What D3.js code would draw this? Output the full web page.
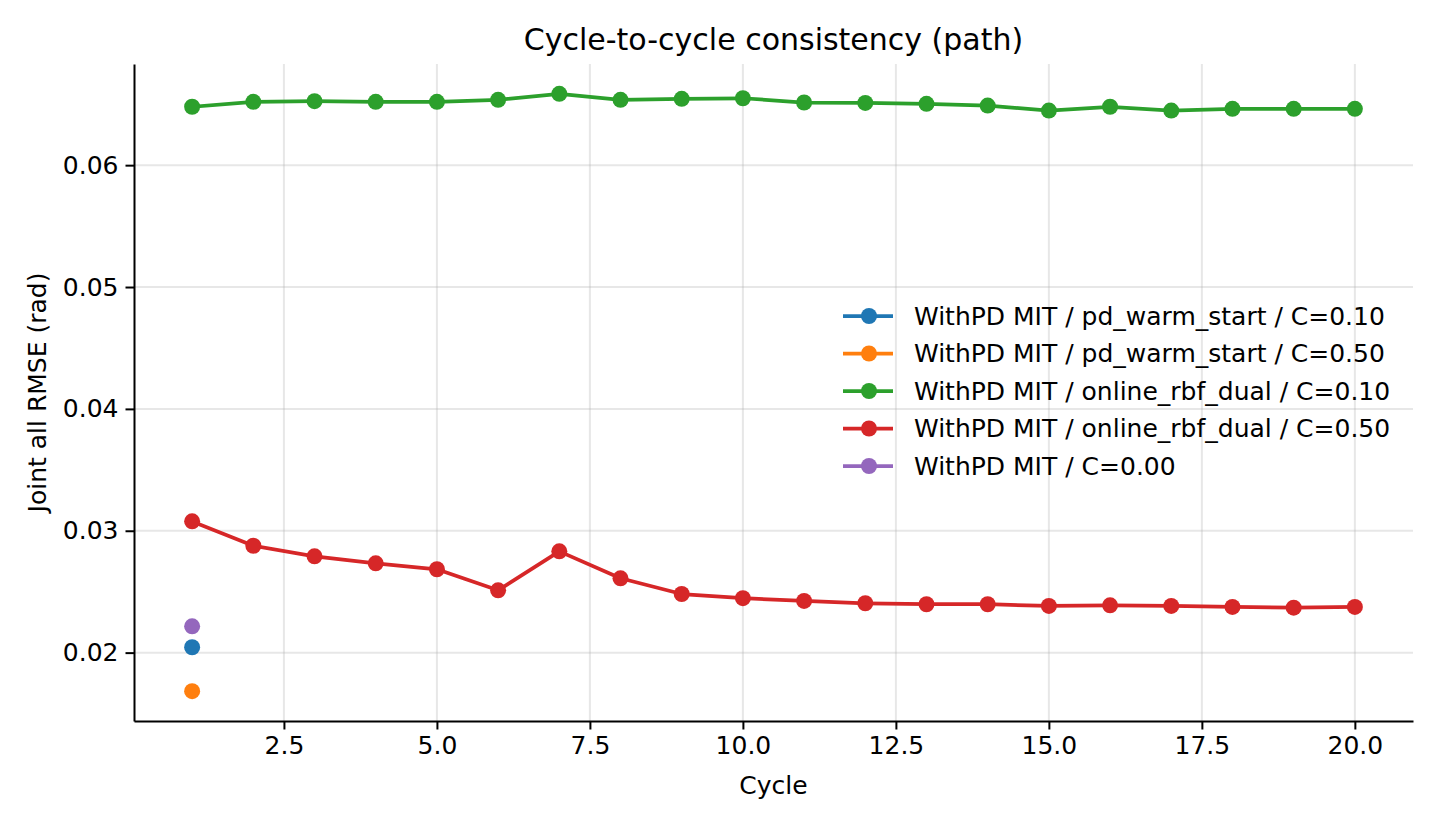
<!DOCTYPE html>
<html>
<head>
    <meta charset="utf-8" />
    <title>Cycle-to-cycle consistency</title>
    <script src="https://cdn.jsdelivr.net/npm/d3@7"></script>
    <style>
        body { margin: 0; background: #fff; }
        text { font-family: "DejaVu Sans", sans-serif; fill: #000; }
    </style>
</head>
<body>
<div id="chart"></div>
<script>
    // data
    var cycles = [1, 2, 3, 4, 5, 6, 7, 8, 9, 10, 11, 12, 13, 14, 15, 16, 17, 18, 19, 20];
    var warmC010 = [0.02044];
    var warmC050 = [0.01684];
    var rbfC010 = [0.06479, 0.06520, 0.06525, 0.06520, 0.06520, 0.06536, 0.06585, 0.06536, 0.06544, 0.06549,
                   0.06514, 0.06511, 0.06503, 0.06489, 0.06448, 0.06479, 0.06448, 0.06462, 0.06462, 0.06462];
    var rbfC050 = [0.03077, 0.02877, 0.02790, 0.02733, 0.02684, 0.02511, 0.02831, 0.02610, 0.02481, 0.02447,
                   0.02424, 0.02405, 0.02397, 0.02397, 0.02383, 0.02388, 0.02383, 0.02375, 0.02369, 0.02375];
    var noC = [0.02216];
    var seriesNames = [
        "WithPD MIT / pd_warm_start / C=0.10",
        "WithPD MIT / pd_warm_start / C=0.50",
        "WithPD MIT / online_rbf_dual / C=0.10",
        "WithPD MIT / online_rbf_dual / C=0.50",
        "WithPD MIT / C=0.00"
    ];
    var seriesColors = ["#1f77b4", "#ff7f0e", "#2ca02c", "#d62728", "#9467bd"];
    var xTicks = [2.5, 5.0, 7.5, 10.0, 12.5, 15.0, 17.5, 20.0];
    var yTicks = [0.02, 0.03, 0.04, 0.05, 0.06];

    var series = [warmC010, warmC050, rbfC010, rbfC050, noC].map(function (vals, i) {
        return {
            name: seriesNames[i],
            color: seriesColors[i],
            points: vals.map(function (v, j) { return { x: cycles[j], y: v }; })
        };
    });

    var width = 1440, height = 827;
    var margin = { top: 64, right: 27, bottom: 106, left: 134 };

    var svg = d3.select("#chart").append("svg")
        .attr("width", width)
        .attr("height", height);

    // matplotlib style 5% padding
    var allY = d3.merge(series.map(function (s) { return s.points.map(function (p) { return p.y; }); }));
    var xExt = d3.extent(cycles), yExt = d3.extent(allY);
    var xPad = (xExt[1] - xExt[0]) * 0.05, yPad = (yExt[1] - yExt[0]) * 0.05;

    var x = d3.scaleLinear()
        .domain([xExt[0] - xPad, xExt[1] + xPad])
        .range([margin.left, width - margin.right]);
    var y = d3.scaleLinear()
        .domain([yExt[0] - yPad, yExt[1] + yPad])
        .range([height - margin.bottom, margin.top]);

    // grid
    var grid = svg.append("g").attr("stroke", "#b0b0b0").attr("stroke-opacity", 0.3).attr("stroke-width", 2);
    grid.selectAll(".gx").data(xTicks).enter().append("line")
        .attr("x1", function (d) { return x(d); }).attr("x2", function (d) { return x(d); })
        .attr("y1", margin.top).attr("y2", height - margin.bottom);
    grid.selectAll(".gy").data(yTicks).enter().append("line")
        .attr("y1", function (d) { return y(d); }).attr("y2", function (d) { return y(d); })
        .attr("x1", margin.left).attr("x2", width - margin.right);

    // lines and markers
    var line = d3.line().x(function (d) { return x(d.x); }).y(function (d) { return y(d.y); });
    series.forEach(function (s) {
        var g = svg.append("g");
        g.append("path")
            .attr("d", line(s.points))
            .attr("fill", "none")
            .attr("stroke", s.color)
            .attr("stroke-width", 3.75)
            .attr("stroke-linejoin", "round")
            .attr("stroke-linecap", "square");
        g.selectAll("circle").data(s.points).enter().append("circle")
            .attr("cx", function (d) { return x(d.x); })
            .attr("cy", function (d) { return y(d.y); })
            .attr("r", 8)
            .attr("fill", s.color);
    });

    // axes
    var xAxis = svg.append("g")
        .attr("transform", "translate(0," + (height - margin.bottom) + ")")
        .call(d3.axisBottom(x).tickValues(xTicks).tickFormat(d3.format(".1f")).tickSizeInner(8.5).tickSizeOuter(0).tickPadding(7));
    var yAxis = svg.append("g")
        .attr("transform", "translate(" + margin.left + ",0)")
        .call(d3.axisLeft(y).tickValues(yTicks).tickFormat(d3.format(".2f")).tickSizeInner(8.5).tickSizeOuter(0).tickPadding(7));
    [xAxis, yAxis].forEach(function (a) {
        a.select(".domain").attr("stroke", "#000").attr("stroke-width", 2);
        a.selectAll(".tick line").attr("stroke", "#000").attr("stroke-width", 2);
        a.selectAll(".tick text").style("font-size", "25px");
        a.attr("font-family", null);
    });

    // titles
    svg.append("text")
        .attr("x", (margin.left + width - margin.right) / 2)
        .attr("y", 50)
        .attr("text-anchor", "middle")
        .style("font-size", "30px")
        .text("Cycle-to-cycle consistency (path)");
    svg.append("text")
        .attr("x", (margin.left + width - margin.right) / 2)
        .attr("y", 794)
        .attr("text-anchor", "middle")
        .style("font-size", "25px")
        .text("Cycle");
    svg.append("text")
        .attr("transform", "translate(46," + ((margin.top + height - margin.bottom) / 2) + ") rotate(-90)")
        .attr("text-anchor", "middle")
        .style("font-size", "25px")
        .text("Joint all RMSE (rad)");

    // legend
    var legend = svg.selectAll(".legend")
        .data(series)
        .enter().append("g")
        .attr("class", "legend")
        .attr("transform", function (d, i) { return "translate(843," + (316 + i * 37.5) + ")"; });
    legend.append("line")
        .attr("x1", 0).attr("x2", 50).attr("y1", 0).attr("y2", 0)
        .attr("stroke", function (d) { return d.color; })
        .attr("stroke-width", 3.75);
    legend.append("circle")
        .attr("cx", 26).attr("cy", 0).attr("r", 8)
        .attr("fill", function (d) { return d.color; });
    legend.append("text")
        .attr("x", 71).attr("y", 0).attr("dy", "0.35em")
        .style("font-size", "25px")
        .text(function (d) { return d.name; });
</script>
</body>
</html>
